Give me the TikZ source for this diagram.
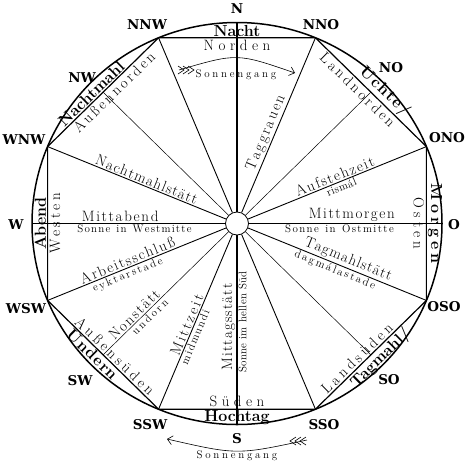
\documentclass[tikz,border=0pt]{standalone}
\usepackage{fontspec}
\usetikzlibrary{arrows.meta,calc}
\newfontfamily\compassfont{DejaVu Serif}
\makeatletter
\newcommand\lsp[2]{\def\lsp@k{\kern#1}\@tfor\lsp@t:=#2\do{\lsp@t\lsp@k}\unkern}
\makeatother
\tikzset{
  outerline/.style={line width=1.5pt},
  chord/.style={line width=1.2pt},
  spoke/.style={line width=0.9pt},
  fine/.style={line width=0.5pt},
  axis/.style={line width=2.1pt},
  hubnode/.style={circle,draw,line width=0.8pt,fill=white,minimum size=23pt,inner sep=0pt},
  cmp/.style={font=\fontsize{13.5}{13.5}\compassfont\bfseries,inner sep=0pt},
  mainlab/.style={font=\fontsize{16}{16}\selectfont\bfseries,inner sep=1.4pt},
  innerlab/.style={font=\fontsize{15}{15}\selectfont,inner sep=1.5pt},
  dirlab/.style={font=\fontsize{15}{15}\selectfont,inner sep=2pt},
  smalllab/.style={font=\fontsize{11}{11}\selectfont,inner sep=1.5pt},
  sglab/.style={font=\fontsize{11}{11}\selectfont,inner sep=0pt},
  sg/.style={line width=0.6pt},
}
\begin{document}
\begin{tikzpicture}[x=1pt,y=-1pt]
\useasboundingbox (0,0) rectangle (473,467);
\coordinate (C) at (237,223.5);
\foreach \n/\a in {N/90,NNO/67.5,NO/45,ONO/22.5,O/0,OSO/-22.5,SO/-45,SSO/-67.5,S/-90,SSW/-112.5,SW/-135,WSW/-157.5,W/180,WNW/157.5,NW/135,NNW/112.5}
  \coordinate (p\n) at ($(C)+({205*cos(\a)},{-201*sin(\a)})$);
\coordinate (mNO) at ($(pNNO)!0.5!(pONO)$);
\coordinate (mSO) at ($(pSSO)!0.5!(pOSO)$);
\coordinate (mSW) at ($(pSSW)!0.5!(pWSW)$);
\coordinate (mNW) at ($(pNNW)!0.5!(pWNW)$);
% circle and octagon
\draw[outerline] (C) ellipse [x radius=205, y radius=201];
\draw[chord] (pNNW)--(pNNO)--(pONO)--(pOSO)--(pSSO)--(pSSW)--(pWSW)--(pWNW)--cycle;
\node[hubnode] (hub) at (C) {};
\foreach \n in {NNO,ONO,OSO,SSO,SSW,WSW,WNW,NNW} \draw[spoke] (hub)--(p\n);
\foreach \n in {NO,SO,SW,NW} \draw[fine] (hub)--(m\n);
\draw[fine] (pW)--(hub) (hub)--(pO);
\draw[axis] (pN)--(hub) (hub)--(pS);
% compass labels
\node[cmp] (lN) at (237,9) {N};
\node[cmp] (lNNO) at (321,25) {NNO};
\node[cmp] (lNO) at (391,68) {NO};
\node[cmp] (lONO) at (447,138) {ONO};
\node[cmp] (lO) at (454,225) {O};
\node[cmp] (lOSO) at (444,307) {OSO};
\node[cmp] (lSO) at (389,380) {SO};
\node[cmp] (lSSO) at (324,425) {SSO};
\node[cmp] (lS) at (237,439) {S};
\node[cmp] (lSSW) at (150,425) {SSW};
\node[cmp] (lSW) at (80,381) {SW};
\node[cmp] (lWSW) at (26,309) {WSW};
\node[cmp] (lW) at (16,225) {W};
\node[cmp] (lWNW) at (24,140) {WNW};
\node[cmp] (lNW) at (82,78) {NW};
\node[cmp] (lNNW) at (147,25) {NNW};
% chord labels
\path (pNNW) -- (pNNO) node[mainlab, above, pos=0.5] (tNacht) {Nacht} node[dirlab, below, pos=0.5] (tNorden) {\lsp{4.5pt}{Norden}};
\path (pNNO) -- (pONO) node[mainlab, sloped, above, pos=0.56] (tUchte) {\lsp{1.5pt}{Uchte/}} node[dirlab, sloped, below, pos=0.43] (tLandnorden) {\lsp{3pt}{Landnorden}};
\path (pONO) -- (pOSO) node[mainlab, rotate=-90, anchor=south, pos=0.5] (tMorgen) {\lsp{4pt}{Morgen}} node[dirlab, rotate=-90, anchor=north, pos=0.5] (tOsten) {\lsp{4pt}{Osten}};
\path (pSSO) -- (pOSO) node[mainlab, sloped, below, pos=0.53] (tTagmahl) {Tagmahl/} node[dirlab, sloped, above, pos=0.42] (tLandsueden) {\lsp{3.5pt}{Landsüden}};
\path (pSSW) -- (pSSO) node[mainlab, below, pos=0.5] (tHochtag) {Hochtag} node[dirlab, above, pos=0.5] (tSueden) {\lsp{4.5pt}{Süden}};
\path (pWSW) -- (pSSW) node[dirlab, sloped, above, pos=0.56] (tAussensueden) {\lsp{3.5pt}{Außensüden}} node[mainlab, sloped, below, pos=0.45] (tUndern) {\lsp{1pt}{Undern}};
\path (pWSW) -- (pWNW) node[mainlab, rotate=90, anchor=south, pos=0.5] (tAbend) {Abend} node[dirlab, rotate=90, anchor=north, pos=0.5] (tWesten) {\lsp{3.2pt}{Westen}};
\path (pWNW) -- (pNNW) node[mainlab, sloped, above, pos=0.44] (tNachtmahl) {Nachtmahl} node[dirlab, sloped, below, pos=0.55] (tAussennorden) {\lsp{2.8pt}{Außennorden}};
% spoke labels
\path (C) -- (pNNO) node[innerlab, sloped, above, pos=0.47] (tTaggrauen) {\lsp{2pt}{Taggrauen}};
\path (C) -- (pONO) node[innerlab, sloped, above, pos=0.53] (tAufstehzeit) {\lsp{1.6pt}{Aufstehzeit}} node[smalllab, sloped, below, pos=0.54] (trismal) {\lsp{0.5pt}{rismál}};
\path (C) -- (pO) node[innerlab, above, pos=0.56] (tMittmorgen) {\lsp{1.6pt}{Mittmorgen}} node[smalllab, below, pos=0.5] (tSonneO) {\lsp{1.4pt}{Sonne~in~Ostmitte}};
\path (C) -- (pOSO) node[innerlab, sloped, above, pos=0.57] (tTagmahlstaett) {\lsp{1pt}{Tagmahlstätt}} node[smalllab, sloped, below, pos=0.53] (tdagmal) {\lsp{2pt}{dagmálastade}};
\path (pS) -- (C) node[innerlab, rotate=90, anchor=south, pos=0.485] (tMittagsstaett) {\lsp{1.2pt}{Mittagsstätt}} node[smalllab, rotate=90, anchor=north, pos=0.51] (tSonneS) {\lsp{0.3pt}{Sonne~im~hellen~Süd}};
\path (pSSW) -- (C) node[innerlab, sloped, above, pos=0.44] (tMittzeit) {\lsp{2.3pt}{Mittzeit}} node[smalllab, sloped, below, pos=0.40] (tmidmundi) {\lsp{1.4pt}{midmundi}};
\path (mSW) -- (C) node[innerlab, sloped, above, pos=0.27] (tNonstaett) {\lsp{1.7pt}{Nonstätt}} node[smalllab, sloped, below, pos=0.32] (tundorn) {\lsp{2.5pt}{undorn}};
\path (pWSW) -- (C) node[innerlab, sloped, above, pos=0.435] (tArbeit) {\lsp{1.6pt}{Arbeitsschluß}} node[smalllab, sloped, below, pos=0.41] (teykt) {\lsp{2pt}{eyktarstade}};
\path (pW) -- (C) node[innerlab, above, pos=0.43] (tMittabend) {\lsp{1.7pt}{Mittabend}} node[smalllab, below, pos=0.5] (tSonneW) {\lsp{1.2pt}{Sonne~in~Westmitte}};
\path (pWNW) -- (C) node[innerlab, sloped, above, pos=0.51] (tNachtmahlstaett) {\lsp{1.1pt}{Nachtmahlstätt}};
% Sonnengang arrows
\coordinate (sgTa) at (179,70);
\coordinate (sgTb) at (295,73);
\draw[sg, -{Straight Barb[length=5pt,width=9pt]}] (sgTa) .. controls (237,53) .. (sgTb);
\foreach \x in {184,189,194} \draw[sg] (\x-6,66) -- (\x,70) -- (\x-6,74);
\node[sglab] (tSgT) at (236,75) {\lsp{2.7pt}{Sonnengang}};
\coordinate (sgBa) at (307,440);
\coordinate (sgBb) at (167,439);
\draw[sg, -{Straight Barb[length=5pt,width=9pt]}] (sgBa) .. controls (237,455) .. (sgBb);
\foreach \x in {290,295,300} \draw[sg] (\x+6,437) -- (\x,441) -- (\x+6,445);
\node[sglab] (tSgB) at (237,456) {\lsp{2.7pt}{Sonnengang}};
\end{tikzpicture}
\end{document}
